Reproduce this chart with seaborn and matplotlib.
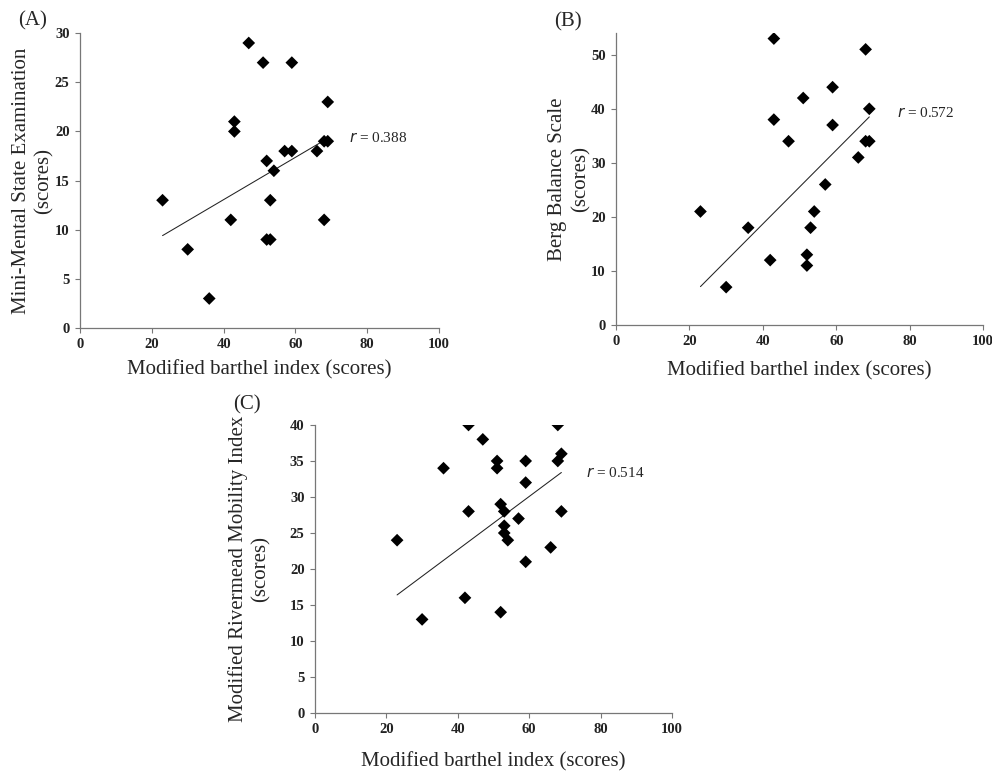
import numpy as np
import pandas as pd
import matplotlib
matplotlib.use("Agg")
import matplotlib.pyplot as plt
import seaborn as sns

# data
mbi_a = [23, 30, 36, 42, 43, 43, 47, 51, 52, 52, 53, 53, 54, 57, 59, 59, 66, 68, 68, 69, 69]
mmse = [13, 8, 3, 11, 21, 20, 29, 27, 17, 9, 9, 13, 16, 18, 18, 27, 18, 11, 19, 19, 23]

mbi_b = [23, 30, 36, 42, 43, 43, 47, 51, 52, 52, 53, 54, 57, 59, 59, 66, 68, 68, 69, 69]
bbs = [21, 7, 18, 12, 53, 38, 34, 42, 13, 11, 18, 21, 26, 44, 37, 31, 51, 34, 34, 40]

mbi_c = [23, 30, 36, 42, 43, 43, 47, 51, 51, 52, 52, 53, 53, 53, 54, 57, 59, 59, 59, 66, 68, 68, 69, 69]
rmi = [24, 13, 34, 16, 40, 28, 38, 35, 34, 29, 14, 28, 26, 25, 24, 27, 35, 32, 21, 23, 40, 35, 36, 28]

# fitted trend lines as drawn in the figure (ends at min / max of x)
fit_x = [23, 69]
fit_a = [9.4, 19.3]
fit_b = [7.1, 38.5]
fit_c = [16.4, 33.4]

panels = ["(A)", "(B)", "(C)"]
ylabels = ["Mini-Mental State Examination\n(scores)",
           "Berg Balance Scale\n(scores)",
           "Modified Rivermead Mobility Index\n(scores)"]
r_labels = ["0.388", "0.572", "0.514"]
ylims = [(0, 30), (0, 54), (0, 40)]
yticks = [range(0, 31, 5), range(0, 51, 10), range(0, 41, 5)]
r_pos = [(75, 19.3), (76.5, 39.3), (76, 33.4)]

sns.set_style("ticks")
plt.rcParams["font.family"] = ["Liberation Serif", "DejaVu Serif"]

fig = plt.figure(figsize=(9.92, 7.71), dpi=100)
ax_a = fig.add_axes([0.0806, 0.5746, 0.362, 0.3824])
ax_b = fig.add_axes([0.621, 0.5785, 0.370, 0.3785])
ax_c = fig.add_axes([0.3175, 0.0752, 0.3600, 0.3736])

data = [(mbi_a, mmse, fit_a), (mbi_b, bbs, fit_b), (mbi_c, rmi, fit_c)]
xpads = [6, 9, 11]
ypads = [0.5, 0.5, 14]
for i, ax in enumerate([ax_a, ax_b, ax_c]):
    x, y, fit = data[i]
    df = pd.DataFrame({"x": x, "y": y})
    sns.scatterplot(data=df, x="x", y="y", ax=ax, marker="D", color="black",
                    s=42, edgecolor="none", zorder=3)
    sns.lineplot(x=fit_x, y=fit, ax=ax, color="#222222", lw=0.75)
    ax.set_xlim(0, 100)
    ax.set_ylim(*ylims[i])
    ax.set_xticks(range(0, 101, 20))
    ax.set_yticks(list(yticks[i]))
    ax.set_xlabel("Modified barthel index (scores)", fontsize=15, labelpad=xpads[i])
    ax.set_ylabel(ylabels[i], fontsize=15, labelpad=ypads[i], linespacing=1.25)
    ax.tick_params(labelsize=10.5, length=3.5, width=0.8, color="#777777", pad=4)
    for lab in ax.get_xticklabels() + ax.get_yticklabels():
        lab.set_fontweight("bold")
        lab.set_color("#222222")
    for side in ["left", "bottom"]:
        ax.spines[side].set_color("#777777")
        ax.spines[side].set_linewidth(0.9)
    sns.despine(ax=ax)
    ax.text(*r_pos[i], "$r$ = " + r_labels[i], fontsize=11, va="center")

fig.text(0.018, 0.973, panels[0], fontsize=15, va="center")
fig.text(0.559, 0.971, panels[1], fontsize=15, va="center")
fig.text(0.235, 0.4747, panels[2], fontsize=15, va="center")

fig.savefig("out.png", dpi=100)
